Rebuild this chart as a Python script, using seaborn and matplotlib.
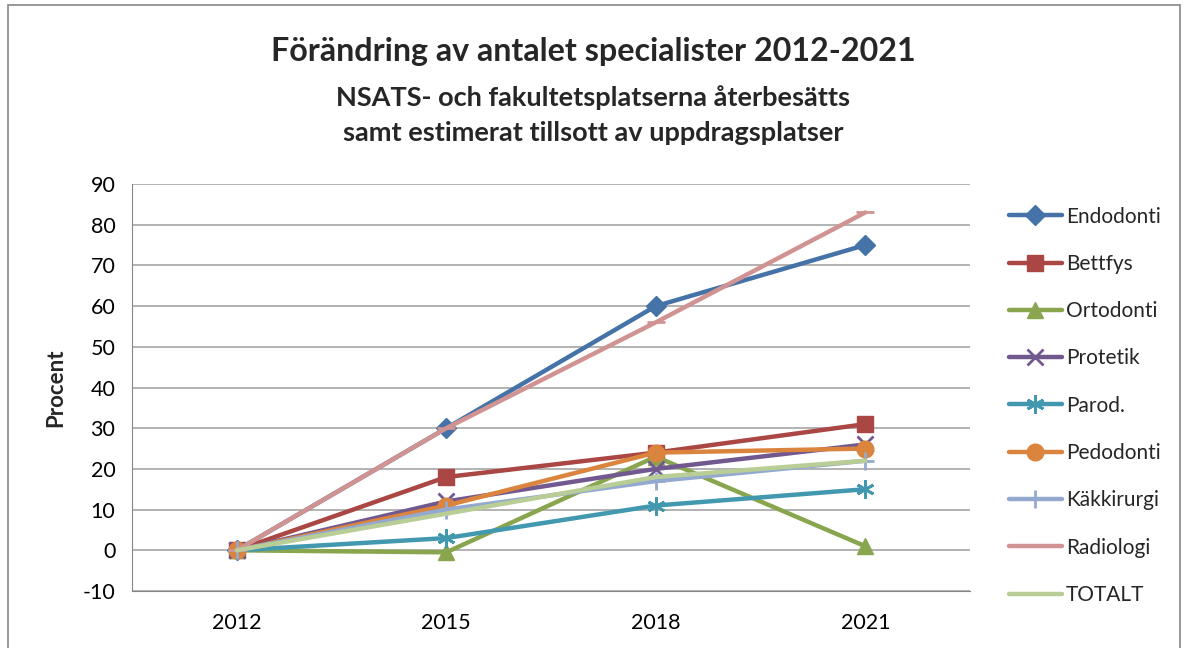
import matplotlib
matplotlib.use('Agg')
import matplotlib.pyplot as plt
import seaborn as sns
import pandas as pd
from matplotlib.patches import Rectangle

years = ['2012', '2015', '2018', '2021']

endodonti = [0, 30, 60, 75]
bettfys = [0, 18, 24, 31]
ortodonti = [0, -0.5, 23, 1]
protetik = [0, 12, 20, 26]
parod = [0, 3, 11, 15]
pedodonti = [0, 11, 24, 25]
kakkirurgi = [0, 10, 17, 22]
radiologi = [0, 30, 56, 83]
totalt = [0, 9, 18, 22]

series = {
    'Endodonti': endodonti,
    'Bettfys': bettfys,
    'Ortodonti': ortodonti,
    'Protetik': protetik,
    'Parod.': parod,
    'Pedodonti': pedodonti,
    'Käkkirurgi': kakkirurgi,
    'Radiologi': radiologi,
    'TOTALT': totalt,
}

colors = {
    'Endodonti': '#4572A7', 'Bettfys': '#AA4643', 'Ortodonti': '#89A54E',
    'Protetik': '#71588F', 'Parod.': '#4198AF', 'Pedodonti': '#DB843D',
    'Käkkirurgi': '#93A9CF', 'Radiologi': '#D19392', 'TOTALT': '#B9CD96',
}
markers = {
    'Endodonti': 'D', 'Bettfys': 's', 'Ortodonti': '^', 'Protetik': 'x',
    'Parod.': (6, 2, 0), 'Pedodonti': 'o', 'Käkkirurgi': '+',
    'Radiologi': '_', 'TOTALT': '',
}
msize = {
    'Endodonti': 10, 'Bettfys': 11, 'Ortodonti': 12, 'Protetik': 11,
    'Parod.': 13, 'Pedodonti': 12, 'Käkkirurgi': 13, 'Radiologi': 13, 'TOTALT': 0,
}

# long-form table for seaborn
rows = []
for name, vals in series.items():
    for i, v in enumerate(vals):
        rows.append({'Serie': name, 'x': i, 'Procent': v})
df = pd.DataFrame(rows)

sns.set_style('white')
plt.rcParams['font.family'] = ['Lato', 'DejaVu Sans']
plt.rcParams['axes.unicode_minus'] = False

fig = plt.figure(figsize=(11.86, 6.48), dpi=100)
ax = fig.add_axes([132 / 1186, 1 - 591 / 648, (970 - 132) / 1186, (591 - 184) / 648])

for name in series:
    sub = df[df['Serie'] == name]
    m = markers[name]
    mew = 2 if name in ('Protetik', 'Parod.', 'Käkkirurgi', 'Radiologi') else 1
    sns.lineplot(data=sub, x='x', y='Procent', ax=ax, color=colors[name],
                 linewidth=3.2, marker=m if m else None, markersize=msize[name],
                 markeredgewidth=mew, markeredgecolor=colors[name], label=name)

ax.set_xlim(-0.5, 3.5)
ax.set_ylim(-10, 90)
ax.set_yticks(range(-10, 91, 10))
ax.set_xticks(range(len(years)))
ax.set_xticklabels(years)
ax.yaxis.grid(True, color='#A6A6A6', linewidth=1.2)
ax.set_axisbelow(True)
for s in ['top', 'right']:
    ax.spines[s].set_visible(False)
ax.spines['left'].set_color('#868686')
ax.spines['bottom'].set_color('#868686')
ax.tick_params(axis='x', labelsize=15.5, colors='black', length=0, pad=16)
ax.tick_params(axis='y', labelsize=15.5, colors='black', length=5, color='#868686',
               direction='out', pad=7)
ax.set_xlabel('')
ax.set_ylabel('Procent', fontsize=16, fontweight='bold', labelpad=12)

ax.legend(loc='upper left', bbox_to_anchor=(1.036, 0.965), frameon=False,
          borderaxespad=0, fontsize=15, handlelength=2.55,
          labelspacing=1.31, handletextpad=0.2)

fig.text(0.5, 1 - 52 / 648, 'Förändring av antalet specialister 2012-2021',
         ha='center', va='center', fontsize=23.2, fontweight='bold')
fig.text(0.5, 1 - 98 / 648, 'NSATS- och fakultetsplatserna återbesätts',
         ha='center', va='center', fontsize=19.5, fontweight='bold')
fig.text(0.5, 1 - 133 / 648, 'samt estimerat tillsott av uppdragsplatser',
         ha='center', va='center', fontsize=19.5, fontweight='bold')

# outer chart frame
fig.patches.append(Rectangle((8 / 1186, -0.02), 1172 / 1186, 1.0 - 5 / 648 + 0.02,
                             transform=fig.transFigure, fill=False,
                             edgecolor='#868686', linewidth=1.2))

fig.savefig('out.png', dpi=100)
